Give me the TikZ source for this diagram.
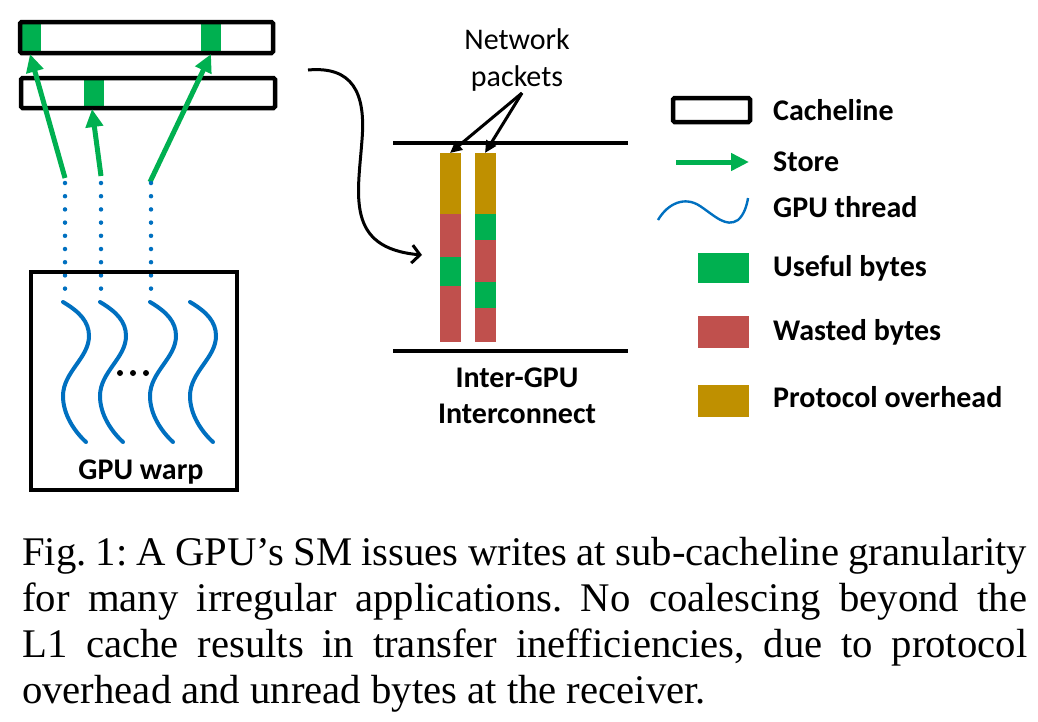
\documentclass[tikz,border=0pt]{standalone}
\usepackage{fontspec}
\setmainfont{Liberation Serif}
\newfontfamily\carl{Carlito}
\usetikzlibrary{arrows.meta}
\definecolor{ugreen}{HTML}{00B050}
\definecolor{wred}{HTML}{C0504D}
\definecolor{pgold}{HTML}{BF9000}
\definecolor{tblue}{HTML}{0070C0}
\begin{document}
\begin{tikzpicture}[x=1pt,y=-1pt,
  lbl/.style={inner sep=0, anchor=base, font=\carl\bfseries\fontsize{30}{36}\selectfont},
  lbll/.style={inner sep=0, anchor=base west, font=\carl\bfseries\fontsize{30}{36}\selectfont},
  cline/.style={draw=black, line width=4.5pt, rounded corners=1.5pt},
  storearrow/.style={draw=ugreen, line width=5pt, -{Triangle[length=18pt,width=17pt]}},
  threadline/.style={draw=tblue, line width=4pt, line cap=round},
  dotline/.style={draw=tblue, line width=4.5pt, line cap=round, dash pattern=on 0pt off 13.2pt},
  blkline/.style={draw=black, line width=3.8pt},
  ptrarrow/.style={draw=black, line width=3pt, -{Triangle[length=12pt,width=11pt]}},
  useful/.style={fill=ugreen},
  wasted/.style={fill=wred},
  proto/.style={fill=pgold}
]
\useasboundingbox (0,0) rectangle (1038,721);

% ---- cachelines ----
\fill[useful] (20,22) rectangle (41,53);
\fill[useful] (201,22) rectangle (221,53);
\fill[useful] (84,78) rectangle (104,108);
\draw[cline] (20,22) rectangle (273,53);
\draw[cline] (21,78) rectangle (275,108);

% ---- store arrows ----
\coordinate (s1) at (65,178);
\coordinate (s2) at (101,176);
\coordinate (s3) at (150,182);
\coordinate (t1) at (30,54);
\coordinate (t2) at (92,109);
\coordinate (t3) at (211,54);
\draw[storearrow] (s1) -- (t1);
\draw[storearrow] (s2) -- (t2);
\draw[storearrow] (s3) -- (t3);

% ---- dotted lines ----
\coordinate (d1a) at (65,183); \coordinate (d1b) at (65,290);
\coordinate (d2a) at (101,183); \coordinate (d2b) at (101,290);
\coordinate (d3a) at (151,183); \coordinate (d3b) at (151,290);
\draw[dotline] (d1a) -- (d1b);
\draw[dotline] (d2a) -- (d2b);
\draw[dotline] (d3a) -- (d3b);

% ---- warp ----
\draw[blkline] (31,272) rectangle (237,490);
\foreach \dx in {0,37,87,127}{
  \draw[threadline, xshift=\dx pt] (63,302) .. controls (80,312) and (89,322) .. (89,336)
     .. controls (89,358) and (63,372) .. (63,396)
     .. controls (63,415) and (75,432) .. (86,442);
}
\foreach \xx in {120,133,146}{ \fill (\xx,373) circle (3pt); }
\node[lbl] (warp) at (141,479) {GPU warp};

% ---- curved arrow ----
\coordinate (ca) at (308,70);
\coordinate (cb) at (422,255);
\draw[draw=black, line width=3pt, -{Straight Barb[length=8pt,width=18pt]}]
  (ca) .. controls (352,66) and (366,92) .. (362,140) .. controls (358,195) and (345,248) .. (cb);

% ---- interconnect ----
\draw[blkline] (393,143) -- (628,143);
\draw[blkline] (393,351) -- (628,351);

\fill[proto] (440,153) rectangle (461,214);
\fill[wasted] (440,214) rectangle (461,257);
\fill[useful] (440,257) rectangle (461,286);
\fill[wasted] (440,286) rectangle (461,342);

\fill[proto] (475,153) rectangle (496,214);
\fill[useful] (475,214) rectangle (496,240);
\fill[wasted] (475,240) rectangle (496,282);
\fill[useful] (475,282) rectangle (496,308);
\fill[wasted] (475,308) rectangle (496,342);

\coordinate (p1) at (450,153);
\coordinate (p2) at (485,153);

\node[inner sep=0, anchor=base, font=\carl\fontsize{30}{36}\selectfont] (net1) at (517,49) {Network};
\node[inner sep=0, anchor=base, font=\carl\fontsize{30}{36}\selectfont] (net2) at (517,86) {packets};
\coordinate (pk) at (522,93);
\draw[ptrarrow] (pk) -- (p1);
\draw[ptrarrow] (pk) -- (p2);

\node[lbl] (ic1) at (517,387) {Inter-GPU};
\node[lbl] (ic2) at (517,423) {Interconnect};

% ---- legend ----
\draw[cline] (673,98) rectangle (750,122);
\node[lbll] (l1) at (773,120) {Cacheline};
\coordinate (la) at (676,162); \coordinate (lb) at (749,162);
\draw[storearrow] (la) -- (lb);
\node[lbll] (l2) at (773,171) {Store};
\draw[draw=tblue, line width=2.4pt] (658,220) .. controls (668,203) and (685,196) .. (700,206)
   .. controls (715,216) and (726,228) .. (738,220) .. controls (744,215) and (747,205) .. (748,198);
\node[lbll] (l3) at (773,217) {GPU thread};
\fill[useful] (698,253) rectangle (749,283);
\node[lbll] (l4) at (773,276) {Useful bytes};
\fill[wasted] (698,316) rectangle (749,348);
\node[lbll] (l5) at (773,340) {Wasted bytes};
\fill[proto] (698,385) rectangle (749,417);
\node[lbll] (l6) at (773,407) {Protocol overhead};

% ---- caption ----
\node[anchor=base west, inner sep=0] (cap) at (22,565) {\parbox[t]{1005pt}{\fontsize{40.7}{46.3}\selectfont
\frenchspacing\hyphenpenalty=10000 \exhyphenpenalty=10000 \tolerance=10000
Fig. 1: A GPU's SM issues writes at sub-cacheline granularity\linebreak
for many irregular applications. No coalescing beyond the\linebreak
L1 cache results in transfer inefficiencies, due to protocol\linebreak
overhead and unread bytes at the receiver.}};
\end{tikzpicture}
\end{document}
